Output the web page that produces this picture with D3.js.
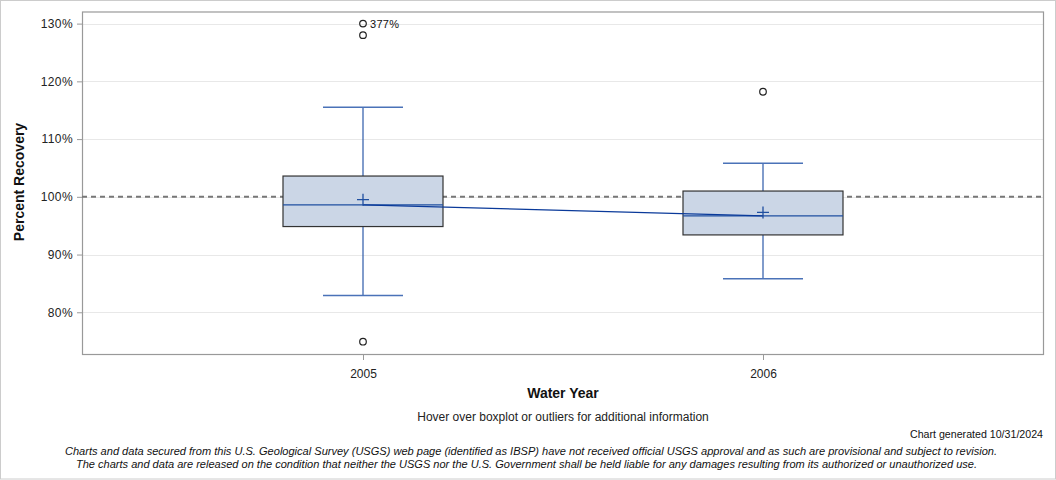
<!DOCTYPE html>
<html><head><meta charset="utf-8">
<script src="https://cdn.jsdelivr.net/npm/d3@7"></script>
<style>body{margin:0;background:#fff}svg{display:block}text{font-family:"Liberation Sans",Arial,sans-serif}</style>
</head><body><svg id="c" width="1056" height="480"></svg>
<script>
const years = ["2005", "2006"];
const q1 = [94.85, 93.4];
const median = [98.6, 96.7];
const q3 = [103.6, 101.0];
const whiskerLow = [82.9, 85.8];
const whiskerHigh = [115.5, 105.8];
const means = [99.5, 97.3];
const outliers = [[377, 128.0, 74.9], [118.2]];
const yTicks = [80, 90, 100, 110, 120, 130];
const yMaxShown = 130;

const svg = d3.select("#c");
const L = 82, R = 1044, T = 11.5, B = 355;
const x = d3.scalePoint().domain(years).range([L, R]).padding(0.7025);
const y = d3.scaleLinear().domain([72.6, 132.1]).range([B, T]);
const boxW = 160, capW = 80;

// outer border
svg.append("rect").attr("x",0.5).attr("y",0.5).attr("width",1055).attr("height",478.5)
  .attr("fill","none").attr("stroke","#cccccc");

// gridlines
svg.append("g").selectAll("line").data(yTicks).join("line")
  .attr("x1",L).attr("x2",R).attr("y1",d=>Math.round(y(d))+0.5).attr("y2",d=>Math.round(y(d))+0.5)
  .attr("stroke","#e8e8e8").attr("stroke-width",1.2);

// y axis
const ya = svg.append("g").attr("transform",`translate(${L},0)`)
  .call(d3.axisLeft(y).tickValues(yTicks).tickFormat(d=>d+"%").tickSize(5).tickPadding(4));
ya.select(".domain").remove();
ya.selectAll("line").attr("stroke","#999");
ya.selectAll("text").attr("font-size",12).attr("fill","#222").attr("letter-spacing","0.4").attr("font-family","Liberation Sans, Arial, sans-serif");

// x axis
const xa = svg.append("g").attr("transform",`translate(0,${B})`)
  .call(d3.axisBottom(x).tickSize(5).tickPadding(9));
xa.select(".domain").remove();
xa.selectAll("line").attr("stroke","#999");
xa.selectAll("text").attr("font-size",12).attr("fill","#222").attr("font-family","Liberation Sans, Arial, sans-serif");

// frame
svg.append("rect").attr("x",L+0.5).attr("y",T+0.5).attr("width",R-L-1).attr("height",B-T-1)
  .attr("fill","none").attr("stroke","#999").attr("stroke-width",1.2);

// reference line 100%
svg.append("line").attr("x1",L).attr("x2",R).attr("y1",y(100)).attr("y2",y(100))
  .attr("stroke","#777").attr("stroke-width",2).attr("stroke-dasharray","5,4");

const data = years.map((yr,i)=>({yr,i}));
const g = svg.append("g");
// whiskers
data.forEach(({yr,i})=>{
  const cx = x(yr);
  g.append("line").attr("x1",cx).attr("x2",cx).attr("y1",y(whiskerHigh[i])).attr("y2",y(q3[i])).attr("stroke","#2d5aa8").attr("stroke-width",1.2);
  g.append("line").attr("x1",cx).attr("x2",cx).attr("y1",y(q1[i])).attr("y2",y(whiskerLow[i])).attr("stroke","#2d5aa8").attr("stroke-width",1.2);
  g.append("line").attr("x1",cx-capW/2).attr("x2",cx+capW/2).attr("y1",y(whiskerHigh[i])).attr("y2",y(whiskerHigh[i])).attr("stroke","#4a72b8").attr("stroke-width",1.5);
  g.append("line").attr("x1",cx-capW/2).attr("x2",cx+capW/2).attr("y1",y(whiskerLow[i])).attr("y2",y(whiskerLow[i])).attr("stroke","#4a72b8").attr("stroke-width",1.5);
  g.append("rect").attr("x",cx-boxW/2).attr("y",y(q3[i])).attr("width",boxW).attr("height",y(q1[i])-y(q3[i]))
    .attr("fill","#cbd6e6").attr("stroke","#333").attr("stroke-width",1.2);
  g.append("line").attr("x1",cx-boxW/2).attr("x2",cx+boxW/2).attr("y1",y(median[i])).attr("y2",y(median[i])).attr("stroke","#1f4fa0").attr("stroke-width",1.2);
});

// line connecting medians
svg.append("path").datum(data).attr("d",d3.line().x(d=>x(d.yr)).y(d=>y(median[d.i])))
  .attr("fill","none").attr("stroke","#0a3a9a").attr("stroke-width",1.2);

// mean markers
data.forEach(({yr,i})=>{
  const cx = x(yr), cy = y(means[i]);
  svg.append("path").attr("d",`M${cx-6},${cy}H${cx+6}M${cx},${cy-6}V${cy+6}`).attr("stroke","#1f4fa0").attr("stroke-width",1.3);
});

// outliers
data.forEach(({yr,i})=>{
  outliers[i].forEach(v=>{
    const shown = Math.min(v, yMaxShown);
    svg.append("circle").attr("cx",x(yr)).attr("cy",y(shown)).attr("r",3.3)
      .attr("fill","none").attr("stroke","#222").attr("stroke-width",1.2);
    if (v > yMaxShown) {
      svg.append("text").attr("x",x(yr)+7).attr("y",y(shown)+4).attr("font-size",11)
        .attr("fill","#111").attr("letter-spacing","0.3").text(v+"%");
    }
  });
});

// titles
svg.append("text").attr("transform","translate(24,182) rotate(-90)").attr("text-anchor","middle")
  .attr("font-size",14).attr("font-weight","bold").attr("fill","#111").text("Percent Recovery");
svg.append("text").attr("x",563).attr("y",398).attr("text-anchor","middle")
  .attr("font-size",14).attr("font-weight","bold").attr("fill","#111").text("Water Year");
svg.append("text").attr("x",563).attr("y",421).attr("text-anchor","middle")
  .attr("font-size",12).attr("fill","#222").text("Hover over boxplot or outliers for additional information");
svg.append("text").attr("x",1043).attr("y",438).attr("text-anchor","end")
  .attr("font-size",10.5).attr("fill","#111").attr("textLength",133).attr("lengthAdjust","spacingAndGlyphs").text("Chart generated 10/31/2024");
svg.append("text").attr("x",531).attr("y",455).attr("text-anchor","middle").attr("font-style","italic")
  .attr("font-size",11.5).attr("fill","#111").attr("textLength",932).attr("lengthAdjust","spacingAndGlyphs").text("Charts and data secured from this U.S. Geological Survey (USGS) web page (identified as IBSP) have not received official USGS approval and as such are provisional and subject to revision.");
svg.append("text").attr("x",526.5).attr("y",468).attr("text-anchor","middle").attr("font-style","italic")
  .attr("font-size",11.5).attr("fill","#111").attr("textLength",901).attr("lengthAdjust","spacingAndGlyphs").text("The charts and data are released on the condition that neither the USGS nor the U.S. Government shall be held liable for any damages resulting from its authorized or unauthorized use.");
</script></body></html>
